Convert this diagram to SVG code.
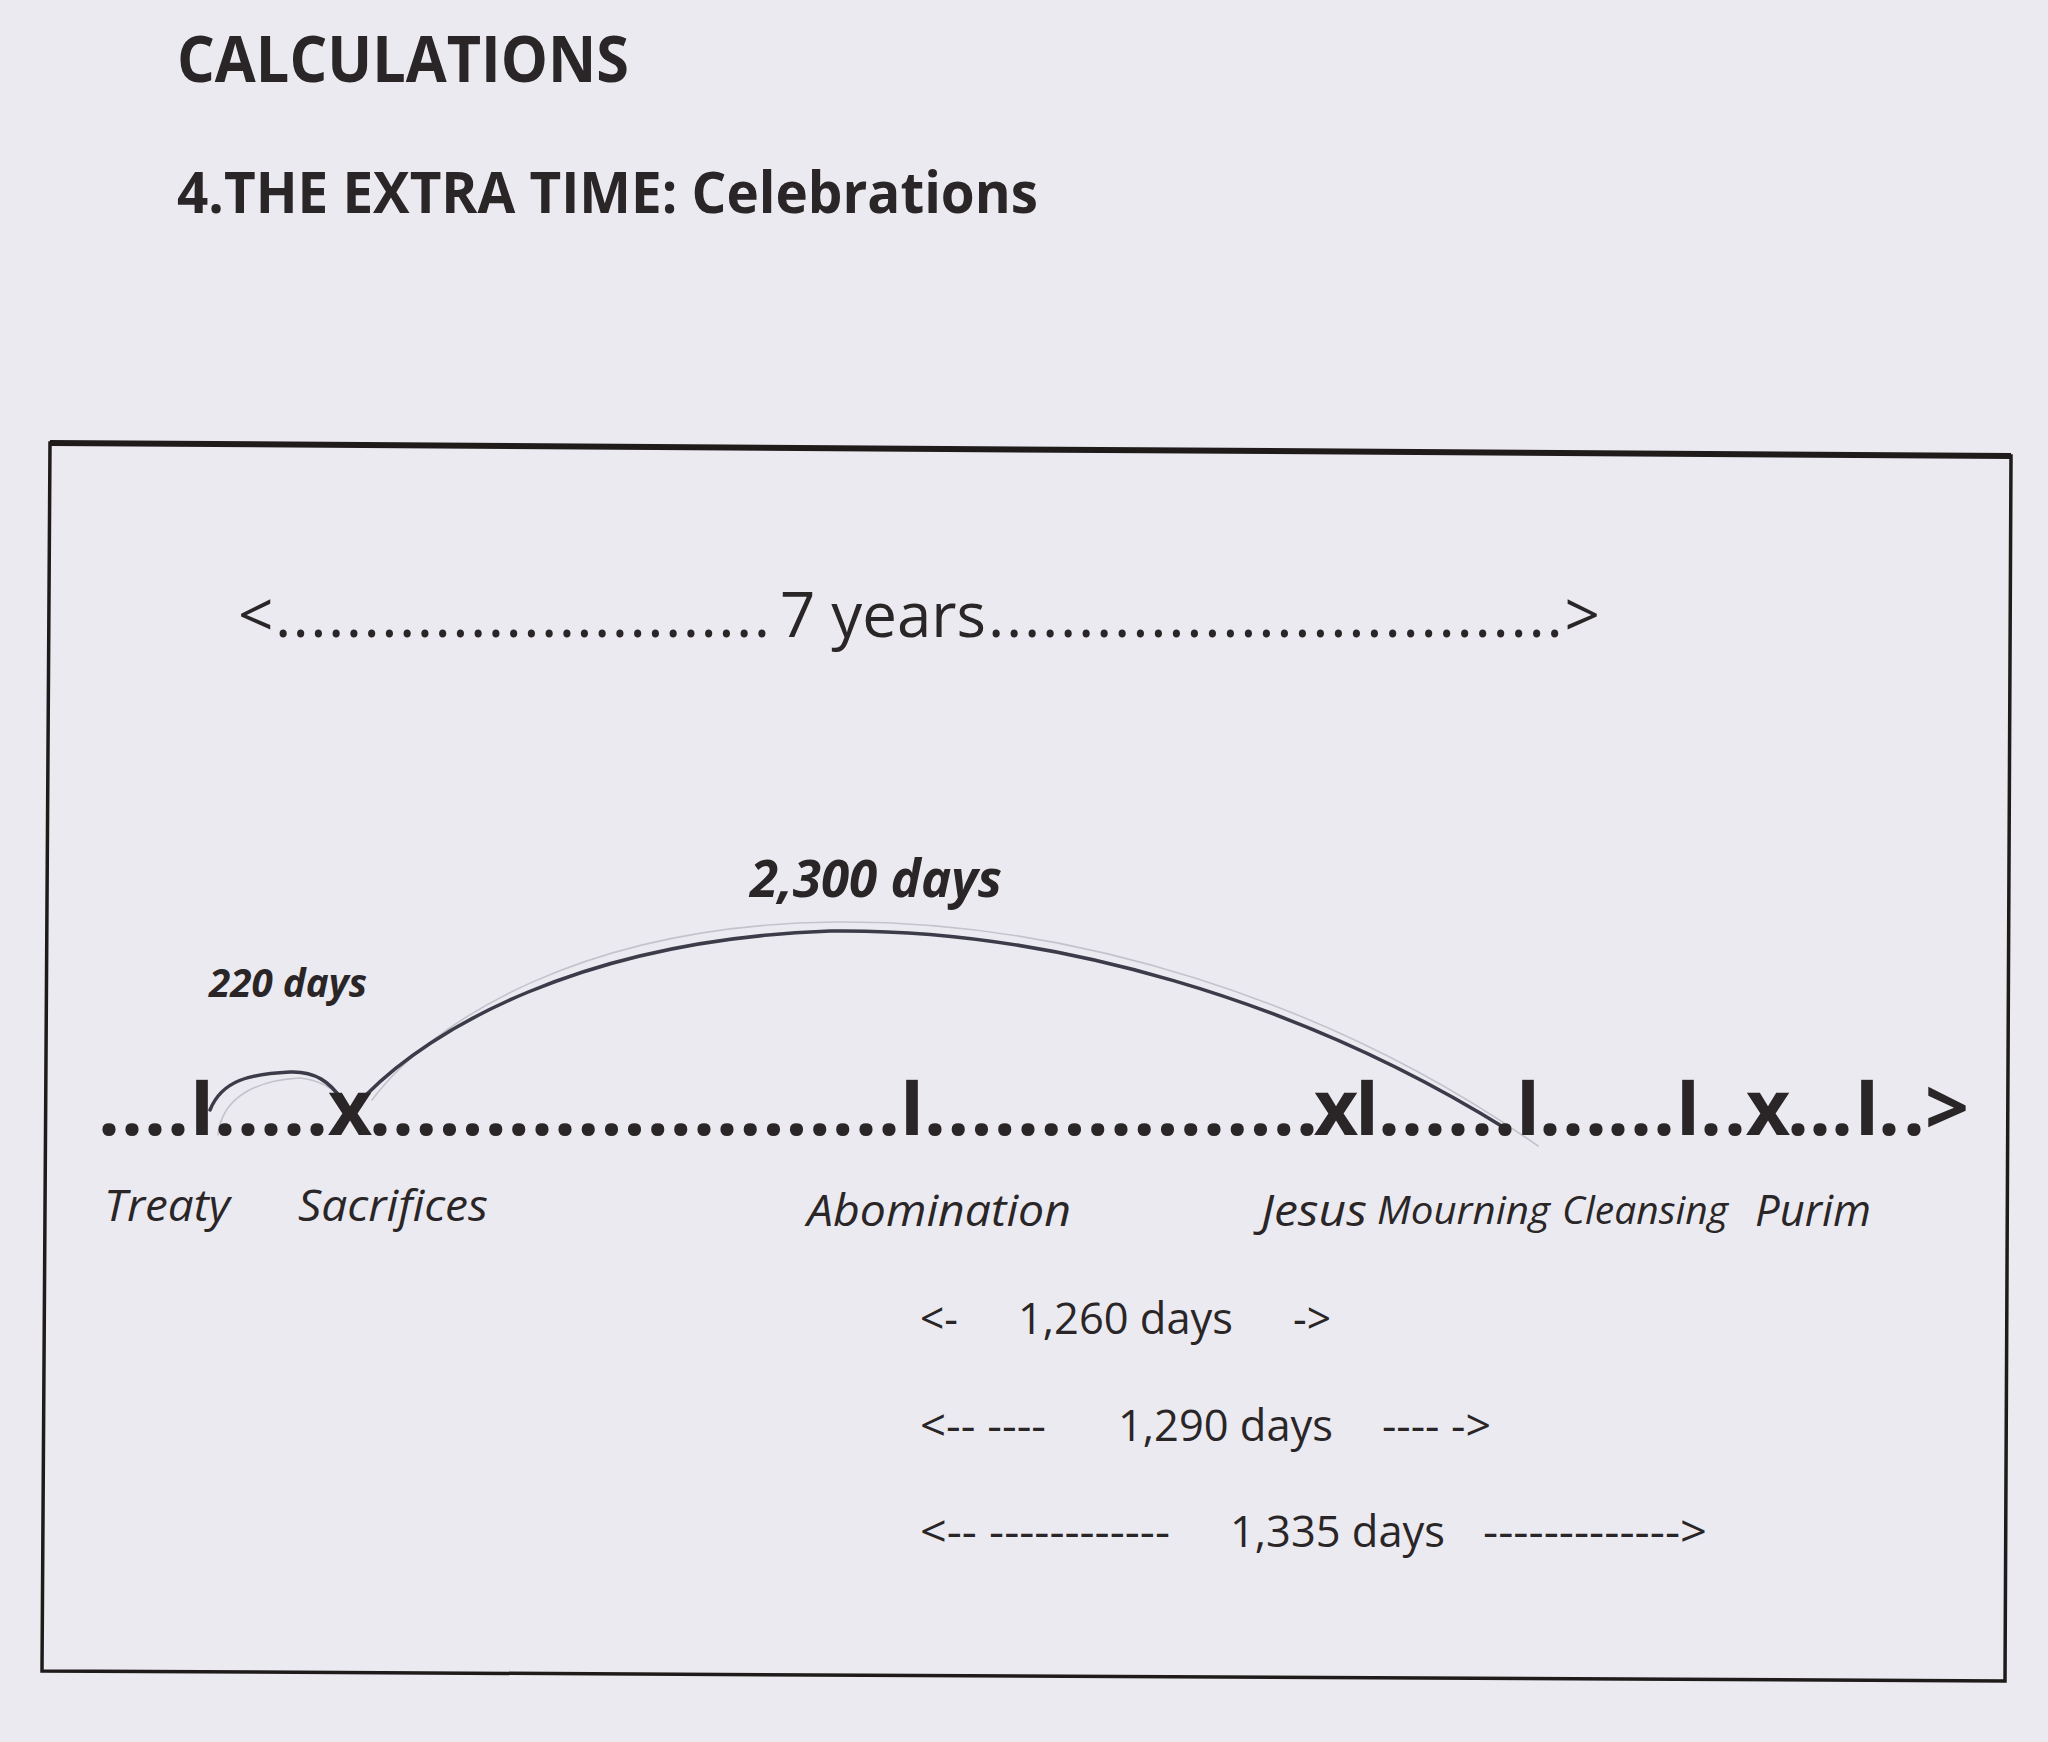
<svg xmlns="http://www.w3.org/2000/svg" width="2048" height="1742" viewBox="0 0 2048 1742">
<style>
.t{fill:#2a2627;font-family:"Open Sans","Noto Sans",sans-serif}
.b{font-weight:700}
.i{font-style:italic}
.arc{fill:none;stroke:#3b3b4a;stroke-width:3.5;stroke-linecap:round}
.pencil{fill:none;stroke:#c4c3cc;stroke-width:1.6;stroke-linecap:round}
.frame{fill:none;stroke:#1f1b1b;stroke-width:3.5}
</style>
<rect width="2048" height="1742" fill="#ebeaf0"/>
<g id="title">
<text class="t b" x="177" y="82" font-size="64" textLength="452" lengthAdjust="spacingAndGlyphs">CALCULATIONS</text>
<text class="t b" x="177" y="213" font-size="57" textLength="861" lengthAdjust="spacingAndGlyphs">4.THE EXTRA TIME: Celebrations</text>
</g>
<g id="frame">
<polygon class="frame" points="50,443 2011,456 2005,1681 42,1671"/>
<line x1="50" y1="443" x2="2011" y2="456" stroke="#1f1b1b" stroke-width="6"/>
</g>
<g id="seven-years">
<text class="t" x="238" y="637" font-size="62" textLength="532" lengthAdjust="spacing">&lt;............................</text>
<text class="t" x="780" y="637" font-size="62" textLength="206" lengthAdjust="spacingAndGlyphs">7 years</text>
<text class="t" x="988" y="637" font-size="62" textLength="612" lengthAdjust="spacing">................................&gt;</text>
</g>
<g id="connectors">
<path class="pencil" d="M218 1135 C222 1095 260 1080 300 1078 C322 1080 335 1090 345 1102"/>
<path class="arc" d="M210 1110 C222 1080 250 1074 290 1072 C315 1071 330 1082 342 1100"/>
<path class="pencil" d="M372 1100 C432 1020 585 925 835 922 C1070 920 1330 1000 1538 1146"/>
<path class="arc" d="M366 1095 C430 1030 580 940 830 931 C1050 928 1300 1000 1508 1130"/>
</g>
<g id="arc-labels">
<text class="t b i" x="209" y="997" font-size="39" textLength="158" lengthAdjust="spacingAndGlyphs">220 days</text>
<text class="t b i" x="750" y="897" font-size="52" textLength="252" lengthAdjust="spacingAndGlyphs">2,300 days</text>
</g>
<g id="timeline">
<text class="t b" y="1135" font-size="77" text-anchor="middle" x="109 132 155 178 202 225 248 271 294 317 350 380 403.1 426.3 449.4 472.6 495.7 518.8 542 565.1 588.3 611.4 634.5 657.7 680.8 704 727.1 750.2 773.4 796.5 819.7 842.8 865.9 889 912 935 958.3 981.5 1004.8 1028 1051.3 1074.5 1097.8 1121 1144.3 1167.5 1190.8 1214 1237.3 1260.5 1283.8 1307 1336 1367 1389 1412 1435 1458 1482 1505 1528 1550 1573 1596 1618 1641 1664 1688 1711 1735 1768 1798 1820 1842 1867 1889 1914 1947">....I.....x.......................I.................xI......I......I..x...I..&gt;</text>
</g>
<g id="labels">
<text class="t i" x="104" y="1221" font-size="44" textLength="126" lengthAdjust="spacingAndGlyphs">Treaty</text>
<text class="t i" x="298" y="1221" font-size="44" textLength="190" lengthAdjust="spacingAndGlyphs">Sacrifices</text>
<text class="t i" x="807" y="1226" font-size="44" textLength="264" lengthAdjust="spacingAndGlyphs">Abomination</text>
<text class="t i" x="1261" y="1226" font-size="44" textLength="106" lengthAdjust="spacingAndGlyphs">Jesus</text>
<text class="t i" x="1377" y="1224" font-size="39" textLength="173" lengthAdjust="spacingAndGlyphs">Mourning</text>
<text class="t i" x="1562" y="1224" font-size="39" textLength="166" lengthAdjust="spacingAndGlyphs">Cleansing</text>
<text class="t i" x="1755" y="1226" font-size="43" textLength="116" lengthAdjust="spacingAndGlyphs">Purim</text>
</g>
<g id="periods">
<text class="t" x="920" y="1334" font-size="44" textLength="38" lengthAdjust="spacingAndGlyphs">&lt;-</text>
<text class="t" x="1018" y="1334" font-size="44" textLength="215" lengthAdjust="spacingAndGlyphs">1,260 days</text>
<text class="t" x="1293" y="1334" font-size="44" textLength="38" lengthAdjust="spacingAndGlyphs">-&gt;</text>
<text class="t" x="920" y="1441" font-size="44" textLength="126" lengthAdjust="spacingAndGlyphs">&lt;-- ----</text>
<text class="t" x="1118" y="1441" font-size="44" textLength="215" lengthAdjust="spacingAndGlyphs">1,290 days</text>
<text class="t" x="1382" y="1441" font-size="44" textLength="109" lengthAdjust="spacingAndGlyphs">---- -&gt;</text>
<text class="t" x="920" y="1547" font-size="44" textLength="250" lengthAdjust="spacingAndGlyphs">&lt;-- ------------</text>
<text class="t" x="1230" y="1547" font-size="44" textLength="215" lengthAdjust="spacingAndGlyphs">1,335 days</text>
<text class="t" x="1483" y="1547" font-size="44" textLength="224" lengthAdjust="spacingAndGlyphs">-------------&gt;</text>
</g>
</svg>
